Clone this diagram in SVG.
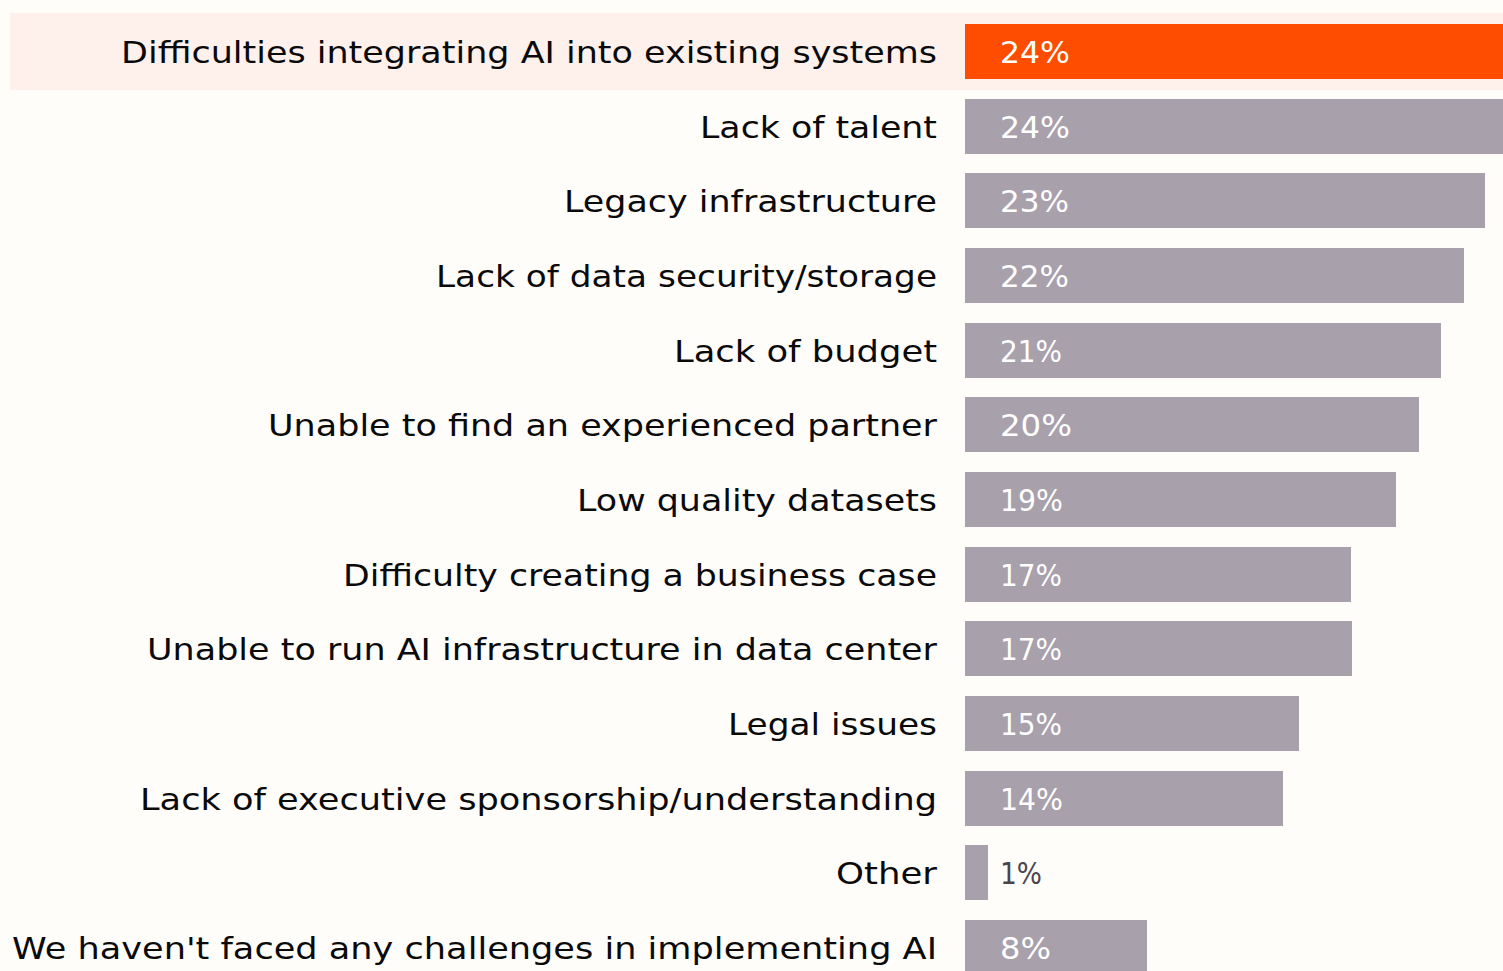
<svg xmlns="http://www.w3.org/2000/svg" width="1503" height="971" viewBox="0 0 1503 971">
<style>
.lbl{font-family:"DejaVu Sans","Noto Sans",sans-serif;font-size:30px;fill:#0a0a0a;text-anchor:end}
.val{font-family:"DejaVu Sans","Noto Sans",sans-serif;font-size:30px;fill:#ffffff}
.valdark{font-family:"DejaVu Sans","Noto Sans",sans-serif;font-size:30px;fill:#4a454c}
.bar{fill:#a8a0ab}
.hl{fill:#ff4d00}
</style>
<rect x="0" y="0" width="1503" height="971" fill="#fffdf9"/>
<rect x="10" y="13" width="1493" height="77" fill="#fef1ec"/>
<g id="row1"><rect class="hl" x="965" y="24" width="538" height="55"/><text class="lbl" x="937" y="63" textLength="816" lengthAdjust="spacingAndGlyphs">Difficulties integrating AI into existing systems</text><text class="val" x="1000" y="63" textLength="70" lengthAdjust="spacingAndGlyphs">24%</text></g>
<g id="row2"><rect class="bar" x="965" y="99" width="538" height="55"/><text class="lbl" x="937" y="138" textLength="237" lengthAdjust="spacingAndGlyphs">Lack of talent</text><text class="val" x="1000" y="138" textLength="70" lengthAdjust="spacingAndGlyphs">24%</text></g>
<g id="row3"><rect class="bar" x="965" y="173" width="520" height="55"/><text class="lbl" x="937" y="212" textLength="373" lengthAdjust="spacingAndGlyphs">Legacy infrastructure</text><text class="val" x="1000" y="212" textLength="69" lengthAdjust="spacingAndGlyphs">23%</text></g>
<g id="row4"><rect class="bar" x="965" y="248" width="499" height="55"/><text class="lbl" x="937" y="287" textLength="501" lengthAdjust="spacingAndGlyphs">Lack of data security/storage</text><text class="val" x="1000" y="287" textLength="69" lengthAdjust="spacingAndGlyphs">22%</text></g>
<g id="row5"><rect class="bar" x="965" y="323" width="476" height="55"/><text class="lbl" x="937" y="362" textLength="263" lengthAdjust="spacingAndGlyphs">Lack of budget</text><text class="val" x="1000" y="362" textLength="62" lengthAdjust="spacingAndGlyphs">21%</text></g>
<g id="row6"><rect class="bar" x="965" y="397" width="454" height="55"/><text class="lbl" x="937" y="436" textLength="669" lengthAdjust="spacingAndGlyphs">Unable to find an experienced partner</text><text class="val" x="1000" y="436" textLength="72" lengthAdjust="spacingAndGlyphs">20%</text></g>
<g id="row7"><rect class="bar" x="965" y="472" width="431" height="55"/><text class="lbl" x="937" y="511" textLength="360" lengthAdjust="spacingAndGlyphs">Low quality datasets</text><text class="val" x="1000" y="511" textLength="63" lengthAdjust="spacingAndGlyphs">19%</text></g>
<g id="row8"><rect class="bar" x="965" y="547" width="386" height="55"/><text class="lbl" x="937" y="586" textLength="594" lengthAdjust="spacingAndGlyphs">Difficulty creating a business case</text><text class="val" x="1000" y="586" textLength="62" lengthAdjust="spacingAndGlyphs">17%</text></g>
<g id="row9"><rect class="bar" x="965" y="621" width="387" height="55"/><text class="lbl" x="937" y="660" textLength="790" lengthAdjust="spacingAndGlyphs">Unable to run AI infrastructure in data center</text><text class="val" x="1000" y="660" textLength="62" lengthAdjust="spacingAndGlyphs">17%</text></g>
<g id="row10"><rect class="bar" x="965" y="696" width="334" height="55"/><text class="lbl" x="937" y="735" textLength="209" lengthAdjust="spacingAndGlyphs">Legal issues</text><text class="val" x="1000" y="735" textLength="62" lengthAdjust="spacingAndGlyphs">15%</text></g>
<g id="row11"><rect class="bar" x="965" y="771" width="318" height="55"/><text class="lbl" x="937" y="810" textLength="797" lengthAdjust="spacingAndGlyphs">Lack of executive sponsorship/understanding</text><text class="val" x="1000" y="810" textLength="63" lengthAdjust="spacingAndGlyphs">14%</text></g>
<g id="row12"><rect class="bar" x="965" y="845" width="23" height="55"/><text class="lbl" x="937" y="884" textLength="101" lengthAdjust="spacingAndGlyphs">Other</text><text class="valdark" x="1000" y="884" textLength="42" lengthAdjust="spacingAndGlyphs">1%</text></g>
<g id="row13"><rect class="bar" x="965" y="920" width="182" height="55"/><text class="lbl" x="937" y="959" textLength="925" lengthAdjust="spacingAndGlyphs">We haven't faced any challenges in implementing AI</text><text class="val" x="1000" y="959" textLength="51" lengthAdjust="spacingAndGlyphs">8%</text></g>
<g id="connectors"></g>
</svg>
